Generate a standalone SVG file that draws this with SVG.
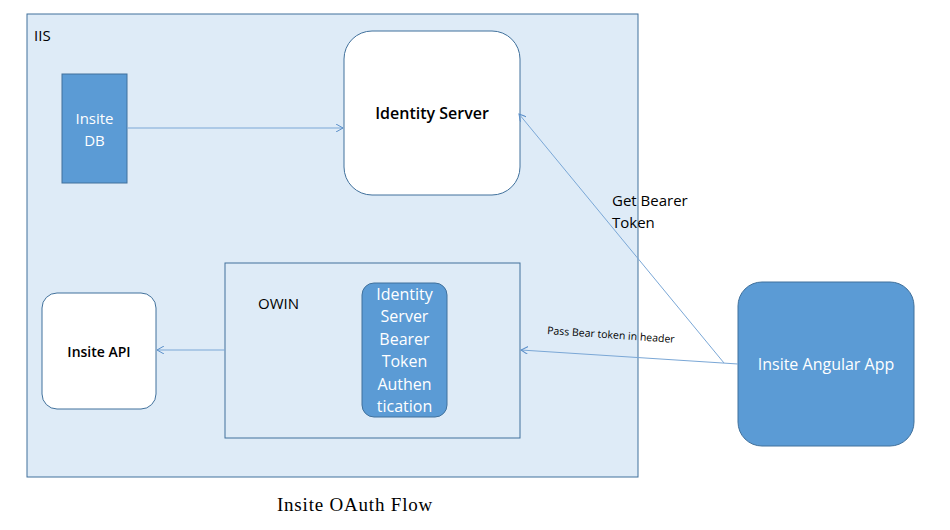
<svg xmlns="http://www.w3.org/2000/svg" width="950" height="530" viewBox="0 0 950 530">
<style>
text{font-family:"Open Sans","Liberation Sans",sans-serif}
.blue{fill:#5b9bd5;stroke:#41719c;stroke-width:1}
.wt{fill:#fff;stroke:#41719c;stroke-width:1}
.c{stroke:#7aa7d6;stroke-width:1;fill:none;marker-end:url(#a)}
</style>
<defs><marker id="a" markerWidth="8" markerHeight="8" refX="7" refY="4" orient="auto" markerUnits="userSpaceOnUse"><path d="M0,0 L7,4 L0,8" fill="none" stroke="#5b8fc9" stroke-width="1"/></marker></defs>
<rect width="950" height="530" fill="#fff"/>
<g id="iis"><rect x="27" y="14" width="611" height="463" fill="#deebf7" stroke="#41719c"/><text x="34" y="41" font-size="15">IIS</text></g>
<g id="db"><rect class="blue" x="62" y="74" width="65" height="109"/><text x="94.5" y="124" font-size="15" fill="#fff" text-anchor="middle">Insite</text><text x="94.5" y="146" font-size="15" fill="#fff" text-anchor="middle">DB</text></g>
<g id="ids"><rect class="wt" x="344" y="31" width="176" height="164" rx="28"/><text x="432" y="119" font-size="16" font-weight="600" text-anchor="middle">Identity Server</text></g>
<g id="owin"><rect x="225" y="263" width="295" height="175" fill="none" stroke="#41719c"/><text x="258" y="309" font-size="15">OWIN</text>
<rect class="blue" x="362" y="283" width="85" height="134" rx="12"/>
<g font-size="16" fill="#fff" text-anchor="middle"><text x="404.5" y="300">Identity</text><text x="404.5" y="322">Server</text><text x="404.5" y="345">Bearer</text><text x="404.5" y="367">Token</text><text x="404.5" y="390">Authen</text><text x="404.5" y="412">tication</text></g></g>
<g id="api"><rect class="wt" x="42" y="293" width="114" height="116" rx="15"/><text x="99" y="357" font-size="14" font-weight="600" text-anchor="middle">Insite API</text></g>
<g id="app"><rect class="blue" x="738" y="282" width="176" height="164" rx="24"/><text x="826" y="370" font-size="16" fill="#fff" text-anchor="middle">Insite Angular App</text></g>
<g id="connectors">
<line class="c" x1="724" y1="363" x2="519" y2="114"/>
<line class="c" x1="127" y1="128" x2="343" y2="128"/>
<line class="c" x1="738" y1="364" x2="521" y2="350"/>
<line class="c" x1="225" y1="350" x2="157" y2="350"/>
<text x="612" y="206" font-size="15">Get Bearer</text><text x="612" y="228" font-size="15">Token</text>
<text x="547" y="334" font-size="10.5" transform="rotate(4 547 334)">Pass Bear token in header</text>
</g>
<text x="355" y="511" font-size="19" letter-spacing="0.8" text-anchor="middle" style="font-family:'Liberation Serif',serif">Insite OAuth Flow</text>
</svg>
